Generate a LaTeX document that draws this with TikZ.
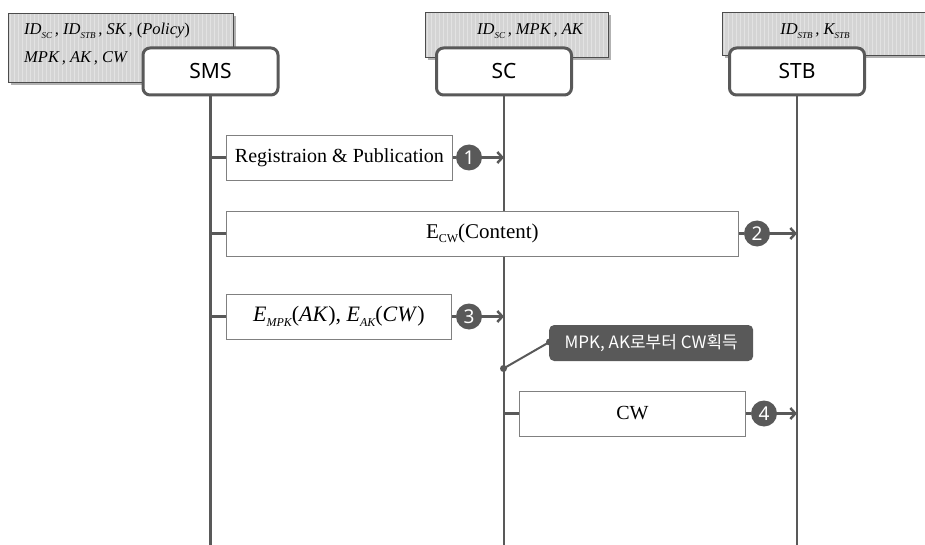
\documentclass[tikz,border=0pt]{standalone}
\usepackage{fontspec}
\setmainfont{Liberation Serif}
\setsansfont{Noto Sans}
\newfontfamily\kr{Noto Sans CJK KR}
\usetikzlibrary{arrows.meta,shadows}
\definecolor{dk}{HTML}{595959}
\definecolor{bd}{HTML}{808080}
\definecolor{gr}{HTML}{D4D4D4}
\definecolor{hl}{HTML}{E2E2E2}
\newcommand{\isub}[2][9]{\raisebox{-0.45ex}{\fontsize{#1}{#1}\selectfont\itshape #2}}
\newcommand{\rsub}[2][12]{\raisebox{-0.45ex}{\fontsize{#1}{#1}\selectfont #2}}
\newcommand{\hatchbox}[1]{%
  \begin{scope}
  \clip (#1.north west) rectangle (#1.south east);
  \foreach \hx in {2,6,...,238} \draw[hl,line width=1pt] ([xshift=\hx pt]#1.north west) -- ([xshift=\hx pt]#1.south west);
  \end{scope}
  \draw[black!70,line width=0.6pt] (#1.north west) rectangle (#1.south east);}
\begin{document}
\begin{tikzpicture}[x=1pt,y=-1pt,
  actor/.style={draw=dk,line width=3pt,rounded corners=7pt,fill=white,minimum width=135pt,minimum height=47pt,font=\sffamily\fontsize{21}{24}\selectfont,inner sep=0pt},
  info/.style={fill=gr,anchor=north west,inner sep=0pt,
     general shadow={fill=black!60,shadow xshift=2.5pt,shadow yshift=-2.5pt,opacity=0.5}},
  infotxt/.style={font=\fontsize{16.5}{18}\selectfont\itshape,inner sep=0pt},
  life/.style={draw=dk,line width=2.5pt},
  msg/.style={draw=bd,line width=0.8pt,fill=white,anchor=west,minimum height=45pt,inner sep=0pt,font=\fontsize{20}{22}\selectfont},
  num/.style={circle,fill=dk,text=white,minimum size=26pt,inner sep=0pt,font=\sffamily\fontsize{19}{20}\selectfont},
  arr/.style={draw=dk,line width=2.5pt,-{Straight Barb[length=5pt,width=11pt]}},
  note/.style={fill=dk,rounded corners=5pt,text=white,minimum width=204pt,minimum height=36pt,inner sep=0pt,font=\kr\fontsize{17}{19}\selectfont},
  dot/.style={circle,fill=dk,inner sep=0pt,minimum size=7pt}
]
\useasboundingbox (0,0) rectangle (925,545);
% info boxes
\node[info,minimum width=225pt,minimum height=69pt] (ismS) at (8,13) {};
\hatchbox{ismS}
\node[info,minimum width=183pt,minimum height=45pt] (iSC) at (425,12) {};
\hatchbox{iSC}
\node[info,minimum width=210pt,minimum height=43pt] (iSTB) at (722,12) {};
\hatchbox{iSTB}
\node[infotxt,anchor=base west] (t1) at (24,35) {ID\isub{SC}\,, ID\isub{STB}\,, SK\,, \textup{(}Policy\textup{)}};
\node[infotxt,anchor=base west] (t2) at (24,63) {MPK\,, AK\,, CW};
\node[infotxt,anchor=base] (t3) at (530,35) {ID\isub{SC}\,, MPK\,, AK};
\node[infotxt,anchor=base] (t4) at (815,35) {ID\isub{STB}\,, K\isub{STB}};
% actors
\node[actor] (sms) at (210.5,71.5) {SMS};
\node[actor] (sc) at (504,71.5) {SC};
\node[actor] (stb) at (797,71.5) {STB};
\coordinate (smsE) at (210.5,545);
\coordinate (scE) at (504,545);
\coordinate (stbE) at (797,545);
\draw[life] (sms.south) -- (smsE);
\draw[life] (sc.south) -- (scE);
\draw[life] (stb.south) -- (stbE);
% message 1
\node[msg,minimum width=226pt] (m1) at (226,157.5) {Registraion \& Publication};
\node[num] (n1) at (469,157.5) {1};
\draw[life] (m1.west -| sms) -- (m1.west);
\draw[life] (m1.east) -- (n1.west);
\draw[arr] (n1.east) -- (n1.east -| sc);
% message 2
\node[msg,minimum width=512pt,font=\fontsize{21}{22}\selectfont] (m2) at (226,233.5) {E\rsub{CW}(Content)};
\node[num] (n2) at (757,233.5) {2};
\draw[life] (m2.west -| sms) -- (m2.west);
\draw[life] (m2.east) -- (n2.west);
\draw[arr] (n2.east) -- (n2.east -| stb);
% message 3
\node[msg,minimum width=225pt,font=\fontsize{22}{24}\selectfont] (m3) at (226,316.5) {\textit{E}\isub[12]{MPK}(\textit{AK}), \textit{E}\isub[12]{AK}(\textit{CW})};
\node[num] (n3) at (469,316.5) {3};
\draw[life] (m3.west -| sms) -- (m3.west);
\draw[life] (m3.east) -- (n3.west);
\draw[arr] (n3.east) -- (n3.east -| sc);
% note
\node[note,anchor=west] (nt) at (549,343) {MPK, AK로부터 CW획득};
\node[dot] (d1) at (503.5,368.5) {};
\node[dot] (d2) at (549.5,342) {};
\draw[draw=dk,line width=2pt] (d1.center) -- (d2.center);
% message 4
\node[msg,minimum width=226pt] (m4) at (519,413.5) {CW};
\node[num] (n4) at (764,413.5) {4};
\draw[life] (m4.west -| sc) -- (m4.west);
\draw[life] (m4.east) -- (n4.west);
\draw[arr] (n4.east) -- (n4.east -| stb);
\end{tikzpicture}
\end{document}
